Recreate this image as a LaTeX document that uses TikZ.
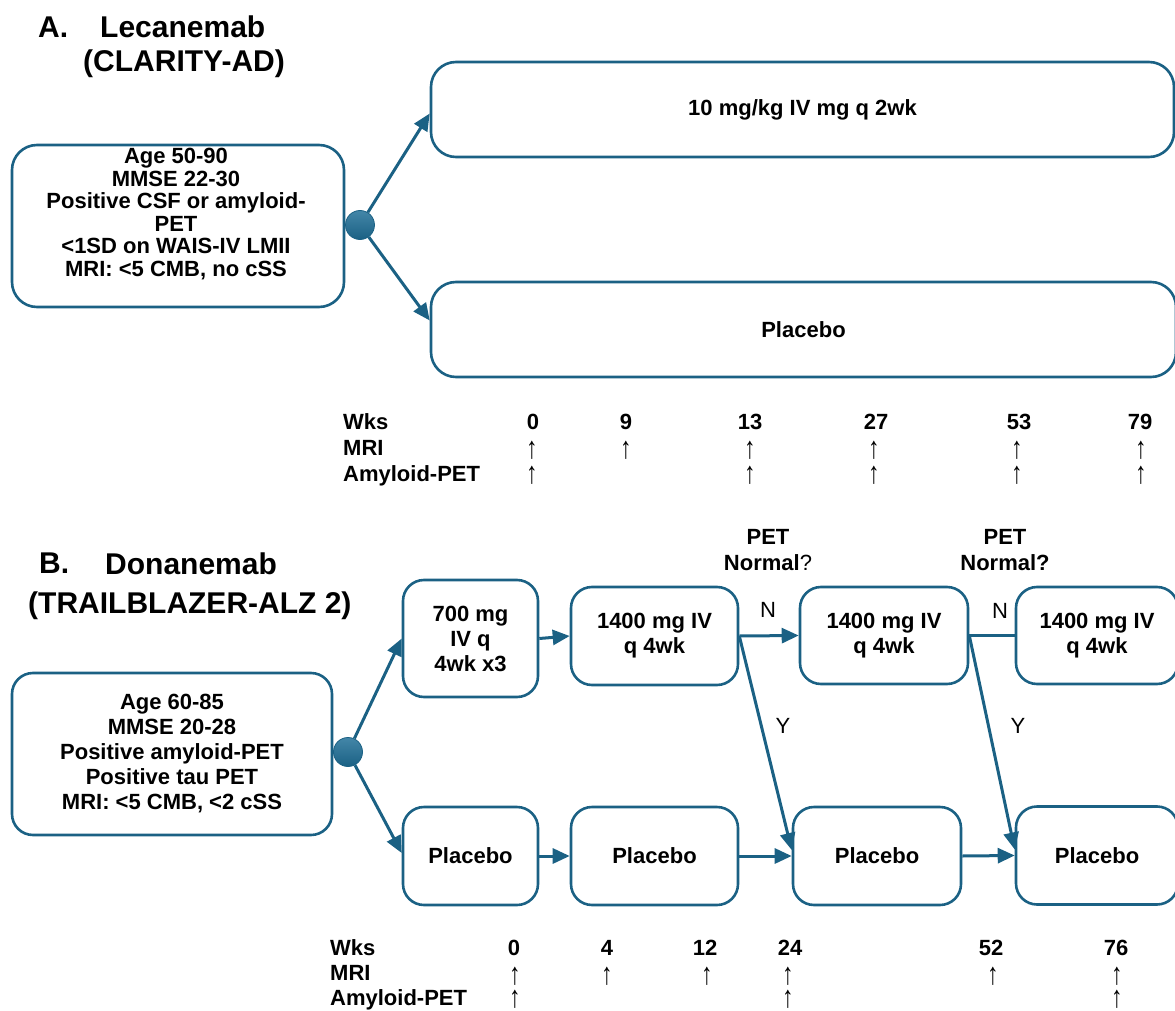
\documentclass[tikz,border=0pt]{standalone}
\usepackage{fontspec}
\setmainfont{Liberation Sans}
\usepackage{xcolor}
\usepackage{graphicx}
\usepackage{tikz}
\usetikzlibrary{arrows.meta,calc}
\definecolor{arm}{HTML}{1B6184}
\definecolor{armlight}{HTML}{4386A8}
\newcommand{\upmark}{\scalebox{1.05}[1.4]{↑}}

\begin{document}
\begin{tikzpicture}
    [x=1pt, y=-1pt,
     Box/.style={draw=arm, line width=2.6pt, rounded corners=21pt, align=center, inner sep=0pt,
                 font=\fontsize{22}{25}\selectfont\bfseries},
     BoxA/.style={Box, rounded corners=25pt, font=\fontsize{22}{22.5}\selectfont\bfseries},
     Txt/.style={align=center, inner sep=0pt, font=\fontsize{22}{22.5}\selectfont\bfseries},
     Split/.style={circle, draw=arm, line width=0.8pt, shade, top color=armlight, bottom color=arm, minimum size=29pt, inner sep=0pt},
     Flow/.style={->, line width=3pt, color=arm},
     Title/.style={anchor=base west, inner sep=0pt, font=\fontsize{30}{34}\selectfont\bfseries},
     Row/.style={anchor=base west, inner sep=0pt, font=\fontsize{22}{25}\selectfont\bfseries},
     Wk/.style={anchor=base, inner sep=0pt, font=\fontsize{22}{25}\selectfont\bfseries},
     Mark/.style={inner sep=0pt, font=\fontsize{22}{22}\selectfont},
     Branch/.style={inner sep=0pt, text=black, font=\fontsize{22}{25}\selectfont},
     Ask/.style={inner sep=0pt, align=center, font=\fontsize{22}{26}\selectfont\bfseries},
    >={Triangle[length=17pt,width=15pt]}
    ]
\useasboundingbox (0,0) rectangle (1175,1011);

%part A: lecanemab
\node[Title] (titA)  at (38,38)  {A.};
\node[Title] (nameA) at (100,38) {Lecanemab};
\node[Title] (trialA) at (83,72) {(CLARITY-AD)};

\node[BoxA, minimum width=332pt, minimum height=162pt] (inclA) at (178,226) {};
\node[Txt] (inclAtext) at (176,214)
    {Age 50-90\\MMSE 22-30\\Positive CSF or amyloid-\\PET\\<1SD on WAIS-IV LMII\\MRI: <5 CMB, no cSS};

\node[Split] (dotA) at (360,225) {};
\node[BoxA, minimum width=743pt, minimum height=95pt] (doseA) at (802.5,109.5) {10 mg/kg IV mg q 2wk};
\node[BoxA, minimum width=745pt, minimum height=95pt] (placA) at (803.5,329.5) {Placebo};

\draw[Flow] (dotA) -- ([yshift=-4pt]doseA.west);
\draw[Flow] (dotA) -- ([yshift=9pt]placA.west);

%schedule A
\node[Row] (wksA) at (343,429) {Wks};
\node[Row] (mriA) at (343,455) {MRI};
\node[Row] (petA) at (343,481) {Amyloid-PET};
\foreach \w/\x in {0/533, 9/626, 13/750, 27/876, 53/1019, 79/1140}
    \node[Wk] (wkA\w) at (\x,429) {\w};
\foreach \w/\x in {0/532, 9/626, 13/750, 27/874, 53/1017, 79/1141}
    \node[Mark] (mriA\w) at (\x,450) {\upmark};
\foreach \w/\x in {0/532, 13/750, 27/874, 53/1017, 79/1141}
    \node[Mark] (petA\w) at (\x,475) {\upmark};

%part B: donanemab
\node[Title] (titB)  at (39,573)  {B.};
\node[Title] (nameB) at (105,574) {Donanemab};
\node[Title] (trialB) at (28,613) {(TRAILBLAZER-ALZ 2)};

\node[Box, minimum width=320pt, minimum height=162pt] (inclB) at (172,754)
    {Age 60-85\\MMSE 20-28\\Positive amyloid-PET\\Positive tau PET\\MRI: <5 CMB, <2 cSS};
\node[Split] (dotB) at (348,752) {};

\node[Box, minimum width=135pt, minimum height=117pt] (doseB1) at (470.5,638.5) {700 mg\\IV q\\4wk x3};
\node[Box, minimum width=167pt, minimum height=98pt]  (doseB2) at (654.5,636) {1400 mg IV\\q 4wk};
\node[Box, minimum width=168pt, minimum height=97pt]  (doseB3) at (884,635.5) {1400 mg IV\\q 4wk};
\node[Box, minimum width=162pt, minimum height=97pt]  (doseB4) at (1097,635.5) {1400 mg IV\\q 4wk};

\node[Box, minimum width=135pt, minimum height=98pt] (placB1) at (470.5,856) {Placebo};
\node[Box, minimum width=167pt, minimum height=98pt] (placB2) at (654.5,856) {Placebo};
\node[Box, minimum width=168pt, minimum height=98pt] (placB3) at (877,856) {Placebo};
\node[Box, minimum width=162pt, minimum height=98pt] (placB4) at (1097,855.5) {Placebo};

\node[Ask] (askB1) at (768,550) {PET\\Normal{\mdseries ?}};
\node[Ask] (askB2) at (1005,550) {PET\\Normal?};

\draw[Flow] (dotB) -- (doseB1.west);
\draw[Flow] (dotB) -- ([yshift=3pt]placB1.west);
\draw[Flow] (doseB1.east) -- (doseB2.west);
\draw[Flow] (doseB2.east) -- (doseB3.west);
\draw[Flow, -] (doseB3.east) -- (doseB4.west);
\draw[Flow] (doseB2.east) -- ([yshift=6pt]placB3.west);
\draw[Flow] (doseB3.east) -- ([yshift=6pt]placB4.west);
\draw[Flow] (placB1.east) -- (placB2.west);
\draw[Flow] (placB2.east) -- (placB3.west);
\draw[Flow] (placB3.east) -- (placB4.west);

%branch labels
\node[Branch] (noB1)  at (768,610) {N};
\node[Branch] (noB2)  at (1000,611) {N};
\node[Branch] (yesB1) at (783,726) {Y};
\node[Branch] (yesB2) at (1018,726) {Y};

%schedule B
\node[Row] (wksB) at (330,955) {Wks};
\node[Row] (mriB) at (330,980) {MRI};
\node[Row] (petB) at (330,1005) {Amyloid-PET};
\foreach \w/\x in {0/514, 4/607, 12/705, 24/790, 52/991, 76/1116}
    \node[Wk] (wkB\w) at (\x,955) {\w};
\foreach \w/\x in {0/515, 4/607, 12/707, 24/788, 52/993, 76/1117}
    \node[Mark] (mriB\w) at (\x,976) {\upmark};
\foreach \w/\x in {0/515, 24/788, 76/1117}
    \node[Mark] (petB\w) at (\x,999) {\upmark};

\end{tikzpicture}
\end{document}
